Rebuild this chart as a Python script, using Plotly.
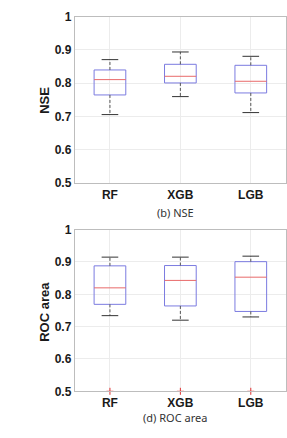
import plotly.graph_objects as go

categories = ["RF", "XGB", "LGB"]

nse_lower = [0.706, 0.760, 0.712]
nse_q1 = [0.765, 0.801, 0.771]
nse_median = [0.811, 0.821, 0.806]
nse_q3 = [0.840, 0.857, 0.854]
nse_upper = [0.871, 0.894, 0.881]
nse_outliers = [[], [], []]

roc_lower = [0.734, 0.720, 0.730]
roc_q1 = [0.769, 0.764, 0.747]
roc_median = [0.820, 0.843, 0.853]
roc_q3 = [0.888, 0.889, 0.901]
roc_upper = [0.915, 0.915, 0.918]
roc_outliers = [[0.5], [0.5], [0.5]]

y_ticks = [0.5, 0.6, 0.7, 0.8, 0.9, 1.0]
y_tick_labels = ["0.5", "0.6", "0.7", "0.8", "0.9", "1"]

BOX_HALF = 0.225
CAP_HALF = 0.118
BOX_COLOR = "#7b7be0"
MED_COLOR = "#e86a6a"
WHISK_COLOR = "#555555"

fig = go.Figure()


def add_boxes(lower, q1, med, q3, upper, outliers, xa, ya):
    for i, cat in enumerate(categories):
        x = i + 1
        fig.add_trace(go.Scatter(
            x=[x - BOX_HALF, x + BOX_HALF, x + BOX_HALF, x - BOX_HALF, x - BOX_HALF],
            y=[q1[i], q1[i], q3[i], q3[i], q1[i]],
            mode="lines", line=dict(color=BOX_COLOR, width=1),
            xaxis=xa, yaxis=ya, showlegend=False, hoverinfo="skip"))
        fig.add_trace(go.Scatter(
            x=[x, x, None, x, x],
            y=[q3[i], upper[i], None, q1[i], lower[i]],
            mode="lines", line=dict(color=WHISK_COLOR, width=1, dash="3px,2px"),
            xaxis=xa, yaxis=ya, showlegend=False, hoverinfo="skip"))
        fig.add_trace(go.Scatter(
            x=[x - CAP_HALF, x + CAP_HALF, None, x - CAP_HALF, x + CAP_HALF],
            y=[upper[i], upper[i], None, lower[i], lower[i]],
            mode="lines", line=dict(color="#333333", width=1),
            xaxis=xa, yaxis=ya, showlegend=False, hoverinfo="skip"))
        fig.add_trace(go.Scatter(
            x=[x - BOX_HALF, x + BOX_HALF],
            y=[med[i], med[i]],
            mode="lines", line=dict(color=MED_COLOR, width=1),
            xaxis=xa, yaxis=ya, showlegend=False, hoverinfo="skip"))
        if outliers[i]:
            fig.add_trace(go.Scatter(
                x=[x] * len(outliers[i]), y=outliers[i],
                mode="markers",
                marker=dict(symbol="cross-thin", size=5, line=dict(color="#e03030", width=1)),
                cliponaxis=False,
                xaxis=xa, yaxis=ya, showlegend=False, hoverinfo="skip"))


add_boxes(nse_lower, nse_q1, nse_median, nse_q3, nse_upper, nse_outliers, "x", "y")
add_boxes(roc_lower, roc_q1, roc_median, roc_q3, roc_upper, roc_outliers, "x2", "y2")

H = 438.0
W = 287.0
FONT = "Liberation Sans, Arial, sans-serif"
axis_font = dict(family=FONT, size=12, color="#1a1a1a")

common_x = dict(range=[0.5, 3.5], tickvals=[1, 2, 3],
                ticktext=["<b>%s</b>" % c for c in categories],
                showgrid=True, gridcolor="#ececec", zeroline=False,
                showline=True, linecolor="#bdbdbd", mirror=True, ticks="",
                tickfont=axis_font, domain=[75 / W, 1.0])
common_y = dict(range=[0.5, 1.0], tickvals=y_ticks,
                ticktext=["<b>%s</b>" % t for t in y_tick_labels],
                showgrid=True, gridcolor="#ececec", zeroline=False,
                showline=True, linecolor="#bdbdbd", mirror=True, ticks="",
                tickfont=axis_font)


def ann(text, px, py, size, family, angle=0, color="#1a1a1a"):
    return dict(text=text, x=px / W, y=1 - py / H, xref="paper", yref="paper",
                xanchor="center", yanchor="middle", textangle=angle,
                showarrow=False, font=dict(family=family, size=size, color=color))


fig.update_layout(
    width=287, height=438,
    margin=dict(l=0, r=0, t=0, b=0),
    paper_bgcolor="white", plot_bgcolor="white",
    xaxis=dict(common_x, anchor="y"),
    yaxis=dict(common_y, anchor="x", domain=[1 - 182 / H, 1 - 10 / H]),
    xaxis2=dict(common_x, anchor="y2"),
    yaxis2=dict(common_y, anchor="x2", domain=[1 - 397 / H, 1 - 230 / H]),
    annotations=[
        ann("<b>NSE</b>", 45, 96, 13, FONT, -90),
        ann("<b>ROC area</b>", 45, 315, 13, FONT, -90),
        ann("(b) NSE", 176, 212, 11, "Noto Sans, sans-serif", 0, "#333333"),
        ann("(d) ROC area", 176, 424, 11, "Noto Sans, sans-serif", 0, "#333333"),
    ],
)

fig.write_html("out.html")
